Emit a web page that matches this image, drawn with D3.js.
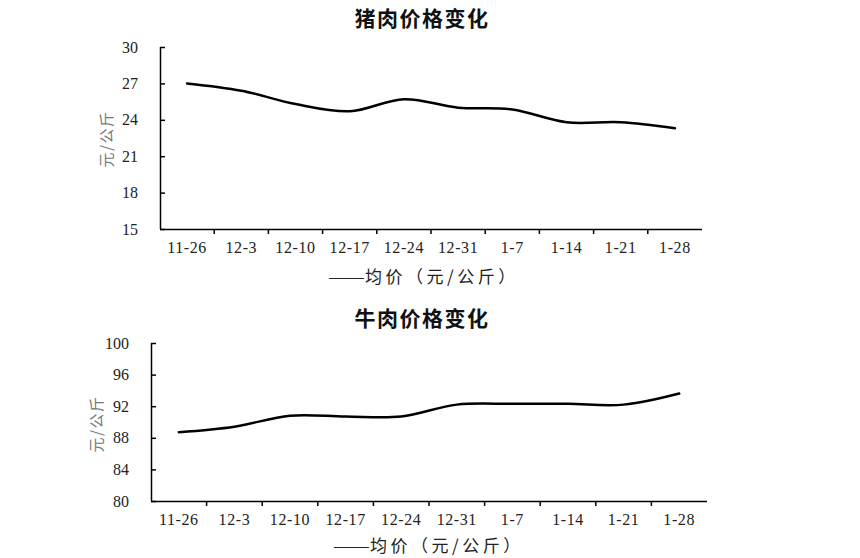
<!DOCTYPE html>
<html><head><meta charset="utf-8">
<script src="https://cdn.jsdelivr.net/npm/d3@7"></script>
<style>body{margin:0;background:#fff}</style>
</head><body>
<script>
const categories = ["11-26","12-3","12-10","12-17","12-24","12-31","1-7","1-14","1-21","1-28"];
const porkValues = [27.0, 26.4, 25.3, 24.7, 25.7, 25.0, 24.85, 23.8, 23.8, 23.3];
const beefValues = [88.7, 89.4, 90.8, 90.7, 90.7, 92.2, 92.3, 92.3, 92.2, 93.6];
const porkTicks = [15, 18, 21, 24, 27, 30];
const beefTicks = [80, 84, 88, 92, 96, 100];
const titles = ["猪肉价格变化", "牛肉价格变化"];
const legendDash = "——";
const legendText = "均价（元/公斤）";
const yTitle = "元/公斤";

const svg = d3.select("body").append("svg").attr("width", 860).attr("height", 558);
const serif = "'Liberation Serif','DejaVu Serif',serif";
const cjk = "'Noto Sans CJK SC','Noto Sans CJK JP',sans-serif";

function chart(cfg) {
  const g = svg.append("g");
  const x = d3.scaleBand().domain(categories).range([cfg.x0, cfg.x1]);
  const y = d3.scaleLinear().domain([cfg.ticks[0], cfg.ticks[cfg.ticks.length-1]]).range([cfg.yBottom, cfg.yTop]);

  // title
  g.append("text").attr("x", cfg.titleX).attr("y", cfg.titleY).attr("text-anchor","middle")
    .attr("font-family", cjk).attr("font-weight","bold").attr("font-size", 21)
    .attr("letter-spacing", 1.5).attr("fill","#111")
    .text(cfg.title);

  // y axis (inner ticks)
  const ya = d3.axisLeft(y).tickValues(cfg.ticks).tickSize(-5).tickPadding(22);
  const yg = g.append("g").attr("transform", `translate(${cfg.x0},0)`).call(ya);
  yg.select(".domain").attr("stroke","#000").attr("stroke-width",1.5).attr("d", `M0.5,${cfg.yBottom}V${cfg.yTop}`);
  yg.selectAll(".tick line").attr("stroke","#000").attr("stroke-width",1.5);
  yg.selectAll("text").attr("font-family", serif).attr("font-size", 16).attr("fill","#222");

  // x axis with ticks at band boundaries
  const xa = d3.axisBottom(x).tickSize(0).tickPadding(13);
  const xg = g.append("g").attr("transform", `translate(0,${cfg.yBottom})`).call(xa);
  xg.select(".domain").attr("stroke","#000").attr("stroke-width",1.5).attr("d", `M${cfg.x0},0.5H${cfg.x1}`);
  xg.selectAll("text").attr("font-family", serif).attr("font-size", 16).attr("letter-spacing", 0.6).attr("fill","#222");
  xg.selectAll(".bt").data(categories.slice(1)).enter().append("line")
    .attr("x1", d => x(d)).attr("x2", d => x(d)).attr("y1", 0).attr("y2", 5)
    .attr("stroke","#000").attr("stroke-width",1.5);

  // y title
  g.append("text").attr("transform", `translate(${cfg.yTitleX},${cfg.yTitleY}) rotate(-90)`)
    .attr("text-anchor","middle").attr("dominant-baseline","central")
    .attr("font-family", cjk).attr("font-size", 15).attr("letter-spacing", 1.5).attr("fill","#777").text(yTitle);

  // legend
  g.append("text").attr("x", cfg.legX).attr("y", cfg.legY).attr("font-family", cjk)
    .attr("font-size", 17).attr("fill","#222")
    .attr("textLength", 37).attr("lengthAdjust","spacingAndGlyphs").text(legendDash);
  g.append("text").attr("x", cfg.legX + 37).attr("y", cfg.legY).attr("font-family", cjk)
    .attr("font-size", 17).attr("letter-spacing", 3.5).attr("fill","#222").text(legendText);

  // line
  const line = d3.line().x((d,i) => x(categories[i]) + x.bandwidth()/2).y(d => y(d))
    .curve(d3.curveCatmullRom.alpha(0.5));
  g.append("path").datum(cfg.values).attr("d", line).attr("fill","none")
    .attr("stroke","#000").attr("stroke-width",2.5).attr("stroke-linecap","round");
}

chart({title: titles[0], values: porkValues, ticks: porkTicks, x0: 160, x1: 702, yTop: 47, yBottom: 229,
  titleX: 422, titleY: 26, yTitleX: 105, yTitleY: 139, legX: 328, legY: 283});
chart({title: titles[1], values: beefValues, ticks: beefTicks, x0: 151, x1: 707, yTop: 343, yBottom: 501,
  titleX: 422, titleY: 326, yTitleX: 95, yTitleY: 424, legX: 333, legY: 552});
</script>
</body></html>
